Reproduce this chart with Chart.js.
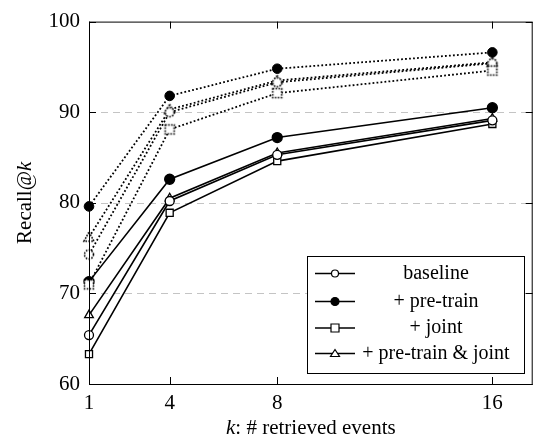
<!DOCTYPE html>
<html lang="en">
<head>
<meta charset="UTF-8">
<title>Recall@k</title>
<script src="https://cdn.jsdelivr.net/npm/chart.js@4/dist/chart.umd.min.js"></script>
<style>
  body { margin: 0; background: #fff; }
  #wrap { width: 539px; height: 442px; }
</style>
</head>
<body>
<div id="wrap"><canvas id="recallChart" width="539" height="442"></canvas></div>
<script>
// x values (k) and tick labels
const kValues = [1, 4, 8, 16];
const yTicks = [60, 70, 80, 90, 100];

// solid lines
const baseline = [65.4, 80.2, 85.3, 89.1];
const preTrain = [71.3, 82.6, 87.2, 90.5];
const joint = [63.3, 78.9, 84.6, 88.7];
const preTrainJoint = [67.6, 80.5, 85.5, 89.3];

// dotted lines
const baselineDot = [74.3, 90.0, 93.3, 95.4];
const preTrainDot = [79.6, 91.8, 94.8, 96.6];
const jointDot = [71.0, 88.1, 92.1, 94.6];
const preTrainJointDot = [76.2, 90.3, 93.5, 95.5];

const legendLabels = ['baseline', '+ pre-train', '+ joint', '+ pre-train & joint'];

const FONT = '"Liberation Serif", "Times New Roman", serif';

// small dotted marker images for the dotted series
function dottedMarker(shape) {
    const c = document.createElement('canvas');
    c.width = 14; c.height = 14;
    const g = c.getContext('2d');
    g.strokeStyle = '#000';
    g.lineWidth = 1.6;
    g.setLineDash([1.6, 1.3]);
    g.fillStyle = '#fff';
    g.beginPath();
    if (shape === 'circle') g.arc(7, 7, 4.5, 0, Math.PI * 2);
    if (shape === 'rect') g.rect(2.5, 2.5, 9, 9);
    if (shape === 'triangle') { g.moveTo(7, 1.8); g.lineTo(12, 11); g.lineTo(2, 11); g.closePath(); }
    g.fill();
    g.stroke();
    return c;
}

function pts(arr) {
    return arr.map((v, i) => ({ x: kValues[i], y: v }));
}

function solidSet(label, data, style, filled, radius) {
    return {
        label: label,
        data: pts(data),
        borderColor: '#000',
        borderWidth: 1.6,
        pointStyle: style,
        pointRadius: radius,
        pointBorderWidth: 1.3,
        pointBorderColor: '#000',
        pointBackgroundColor: filled ? '#000' : '#fff',
        clip: false
    };
}

function dotSet(data, style, radius) {
    return {
        label: '',
        data: pts(data),
        borderColor: '#000',
        borderWidth: 1.8,
        borderDash: [1.8, 2.2],
        pointStyle: style,
        pointRadius: radius,
        pointBorderWidth: 1,
        pointBorderColor: '#000',
        pointBackgroundColor: '#000',
        clip: false,
        isDotted: true
    };
}

const datasets = [
    dotSet(jointDot, dottedMarker('rect'), 5),
    dotSet(baselineDot, dottedMarker('circle'), 5),
    dotSet(preTrainJointDot, dottedMarker('triangle'), 5),
    dotSet(preTrainDot, 'circle', 4.8),
    solidSet(legendLabels[0], baseline, 'circle', false, 4.5),
    solidSet(legendLabels[1], preTrain, 'circle', true, 5),
    solidSet(legendLabels[2], joint, 'rect', false, 5),
    solidSet(legendLabels[3], preTrainJoint, 'triangle', false, 5)
];

// draws the grid, box, inner ticks, axis titles and legend
const framePlugin = {
    id: 'frame',
    beforeDatasetsDraw(chart) {
        const ctx = chart.ctx, a = chart.chartArea, y = chart.scales.y;
        ctx.save();
        ctx.strokeStyle = '#c4c4c4';
        ctx.lineWidth = 1;
        ctx.setLineDash([7, 5]);
        yTicks.slice(1, -1).forEach(v => {
            const py = Math.round(y.getPixelForValue(v)) + 0.5;
            ctx.beginPath(); ctx.moveTo(a.left, py); ctx.lineTo(a.right, py); ctx.stroke();
        });
        ctx.restore();
    },
    afterDatasetsDraw(chart) {
        const ctx = chart.ctx, a = chart.chartArea, x = chart.scales.x, y = chart.scales.y;
        ctx.save();
        ctx.strokeStyle = '#000';
        ctx.lineWidth = 1;
        ctx.setLineDash([]);
        ctx.strokeRect(a.left + 0.5, a.top + 0.5, a.right - a.left - 1, a.bottom - a.top);
        const tl = 7;
        ctx.beginPath();
        kValues.forEach(v => {
            const px = Math.round(x.getPixelForValue(v)) + 0.5;
            ctx.moveTo(px, a.bottom); ctx.lineTo(px, a.bottom - tl);
            ctx.moveTo(px, a.top); ctx.lineTo(px, a.top + tl);
        });
        yTicks.forEach(v => {
            const py = Math.round(y.getPixelForValue(v)) + 0.5;
            ctx.moveTo(a.left, py); ctx.lineTo(a.left + tl, py);
            ctx.moveTo(a.right, py); ctx.lineTo(a.right - tl, py);
        });
        ctx.stroke();
        ctx.restore();
    },
    afterDraw(chart) {
        const ctx = chart.ctx, a = chart.chartArea;
        ctx.save();
        ctx.fillStyle = '#000';
        ctx.textBaseline = 'middle';

        // x title: "k: # retrieved events"
        const xt1 = 'k', xt2 = ': # retrieved events';
        ctx.font = 'italic 21px ' + FONT;
        const w1 = ctx.measureText(xt1).width;
        ctx.font = '21px ' + FONT;
        const w2 = ctx.measureText(xt2).width;
        const cx = (a.left + a.right) / 2;
        let sx = cx - (w1 + w2) / 2;
        ctx.textAlign = 'left';
        ctx.font = 'italic 21px ' + FONT;
        ctx.fillText(xt1, sx, 428);
        ctx.font = '21px ' + FONT;
        ctx.fillText(xt2, sx + w1, 428);

        // y title: "Recall@k"
        ctx.translate(25, (a.top + a.bottom) / 2);
        ctx.rotate(-Math.PI / 2);
        ctx.font = '21px ' + FONT;
        const yw1 = ctx.measureText('Recall@').width;
        ctx.font = 'italic 21px ' + FONT;
        const yw2 = ctx.measureText('k').width;
        sx = -(yw1 + yw2) / 2;
        ctx.font = '21px ' + FONT;
        ctx.fillText('Recall@', sx, 0);
        ctx.font = 'italic 21px ' + FONT;
        ctx.fillText('k', sx + yw1, 0);
        ctx.restore();

        // legend box
        const lx = 307, ly = 256, lw = 217, lh = 117;
        ctx.save();
        ctx.fillStyle = '#fff';
        ctx.fillRect(lx, ly, lw, lh);
        ctx.strokeStyle = '#000';
        ctx.lineWidth = 1;
        ctx.strokeRect(lx + 0.5, ly + 0.5, lw, lh);
        const rows = [273.5, 301.5, 328, 353.5];
        chart.data.datasets.filter(d => !d.isDotted).forEach((d, i) => {
            const ry = rows[i];
            ctx.strokeStyle = '#000';
            ctx.lineWidth = 1.6;
            ctx.beginPath(); ctx.moveTo(315, ry); ctx.lineTo(355, ry); ctx.stroke();
            ctx.lineWidth = 1.2;
            ctx.fillStyle = d.pointBackgroundColor;
            ctx.beginPath();
            if (d.pointStyle === 'circle') ctx.arc(335, ry, d.pointBackgroundColor === '#000' ? 4 : 3.5, 0, Math.PI * 2);
            if (d.pointStyle === 'rect') ctx.rect(331, ry - 4, 8, 8);
            if (d.pointStyle === 'triangle') { ctx.moveTo(335, ry - 4); ctx.lineTo(339.5, ry + 3); ctx.lineTo(330.5, ry + 3); ctx.closePath(); }
            ctx.fill(); ctx.stroke();
            ctx.fillStyle = '#000';
            ctx.font = '20px ' + FONT;
            ctx.textAlign = 'center';
            ctx.textBaseline = 'middle';
            ctx.fillText(d.label, 436, ry);
        });
        ctx.restore();
    }
};

new Chart(document.getElementById('recallChart'), {
    type: 'line',
    data: { datasets: datasets },
    options: {
        responsive: false,
        animation: false,
        devicePixelRatio: 1,
        layout: { padding: { top: 11, right: 1, left: 0, bottom: 0 } },
        plugins: { legend: { display: false }, tooltip: { enabled: false } },
        elements: { line: { tension: 0 } },
        scales: {
            x: {
                type: 'linear',
                min: 1,
                max: 17.5,
                afterBuildTicks: s => { s.ticks = kValues.map(v => ({ value: v })); },
                afterFit: s => { s.height = 58; },
                grid: { display: false, drawTicks: false },
                border: { display: false },
                ticks: {
                    autoSkip: false,
                    maxRotation: 0,
                    padding: 7,
                    color: '#000',
                    font: { family: FONT, size: 21 }
                }
            },
            y: {
                type: 'linear',
                min: 60,
                max: 100,
                afterBuildTicks: s => { s.ticks = yTicks.map(v => ({ value: v })); },
                afterFit: s => { s.width = 89; },
                grid: { display: false, drawTicks: false },
                border: { display: false },
                ticks: {
                    padding: 9,
                    color: '#000',
                    font: { family: FONT, size: 21 }
                }
            }
        }
    },
    plugins: [framePlugin]
});
</script>
</body>
</html>
